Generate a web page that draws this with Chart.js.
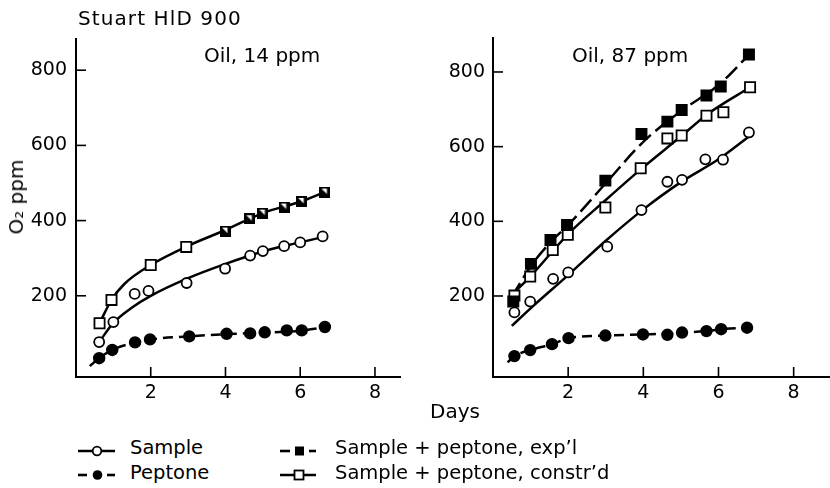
<!DOCTYPE html>
<html><head><meta charset="utf-8">
<script src="https://cdn.jsdelivr.net/npm/chart.js@4.4.1/dist/chart.umd.min.js"></script>
<style>
html,body{margin:0;padding:0;background:#fff;}
body{width:830px;height:488px;position:relative;overflow:hidden;font-family:"DejaVu Sans",sans-serif;color:#000;}
.t{position:absolute;white-space:nowrap;line-height:20px;font-size:20px;}
.lg{position:absolute;white-space:nowrap;line-height:20px;font-size:19.5px;}
.ic{position:absolute;}
#c1{position:absolute;left:0;top:0;}
#c2{position:absolute;left:416px;top:0;}
</style></head><body>
<canvas id="c1" width="410" height="410"></canvas>
<canvas id="c2" width="425" height="410"></canvas>
<div class="t" style="left:78px;top:8px;letter-spacing:1.1px">Stuart HlD 900</div>
<div class="t" style="left:204px;top:45px">Oil, 14 ppm</div>
<div class="t" style="left:572px;top:45px">Oil, 87 ppm</div>
<div class="t" style="left:16px;top:197px;transform:translate(-50%,-50%) rotate(-90deg)">O₂ ppm</div>
<div class="t" style="left:430px;top:401px">Days</div>

<svg class="ic" style="left:78px;top:445px" width="40" height="12"><line x1="0" y1="6" x2="37" y2="6" stroke="#000" stroke-width="2.4"/><circle cx="19" cy="6" r="4.3" fill="#fff" stroke="#000" stroke-width="1.8"/></svg>
<div class="lg" style="left:130px;top:438px">Sample</div>
<svg class="ic" style="left:78px;top:469px" width="40" height="12"><line x1="0" y1="6" x2="9" y2="6" stroke="#000" stroke-width="2.6"/><line x1="29" y1="6" x2="37" y2="6" stroke="#000" stroke-width="2.6"/><circle cx="19.5" cy="6" r="4.8" fill="#000"/></svg>
<div class="lg" style="left:130px;top:463px">Peptone</div>
<svg class="ic" style="left:280px;top:445px" width="40" height="12"><line x1="0" y1="6" x2="10" y2="6" stroke="#000" stroke-width="2.6"/><line x1="29" y1="6" x2="36" y2="6" stroke="#000" stroke-width="2.6"/><rect x="15" y="1.5" width="9" height="9" fill="#000"/></svg>
<div class="lg" style="left:335px;top:438px">Sample + peptone, exp’l</div>
<svg class="ic" style="left:280px;top:469px" width="40" height="12"><line x1="0" y1="6" x2="36" y2="6" stroke="#000" stroke-width="2.4"/><rect x="14.5" y="1.5" width="9" height="9" fill="#fff" stroke="#000" stroke-width="1.8"/></svg>
<div class="lg" style="left:335px;top:463px">Sample + peptone, constr’d</div>

<script>
// ---------- tick labels ----------
const yTicks = [200, 400, 600, 800];
const xTicks = [2, 4, 6, 8];

// ---------- Left panel: Oil, 14 ppm ----------
const sampleDaysL = [0.62, 1.0, 1.57, 1.94, 2.96, 3.99, 4.66, 5.0, 5.57, 6.0, 6.6];
const sampleL     = [77, 130, 205, 213, 234, 272, 307, 319, 332, 342, 358];
const peptoneDaysL = [0.62, 0.97, 1.58, 1.98, 3.03, 4.03, 4.66, 5.05, 5.64, 6.04, 6.66];
const peptoneL     = [34, 56, 76, 84, 92, 99, 100, 103, 108, 108, 117];
const constrDaysL = [0.63, 0.95, 2.0, 2.95, 4.0, 4.65, 5.0, 5.57, 6.04, 6.66];
const constrL     = [127, 189, 282, 330, 372, 405, 420, 436, 451, 476];
const explDaysL = [4.0, 4.65, 5.0, 5.57, 6.04, 6.66];
const explL     = [372, 405, 420, 436, 451, 476];
// fitted curves
const sampleFitDaysL = [0.62, 1.0, 1.5, 2.0, 3.0, 4.0, 5.0, 6.0, 6.6];
const sampleFitL     = [77, 128, 169, 200, 247, 285, 318, 342, 356];
const constrFitDaysL = [0.63, 0.95, 1.3, 2.0, 3.0, 4.0, 5.0, 6.0, 6.66];
const constrFitL     = [127, 189, 232, 282, 333, 375, 420, 450, 476];
const peptoneFitDaysL = [0.37, 0.62, 0.97, 1.58, 2.0, 3.0, 4.0, 5.0, 6.0, 6.66];
const peptoneFitL     = [13, 34, 56, 76, 84, 92, 98, 102, 107, 116];

// ---------- Right panel: Oil, 87 ppm ----------
const sampleDaysR = [0.57, 0.99, 1.6, 2.0, 3.04, 3.95, 4.64, 5.03, 5.65, 6.12, 6.81];
const sampleR     = [156, 185, 246, 263, 332, 430, 506, 511, 566, 565, 638];
const peptoneDaysR = [0.57, 0.99, 1.57, 2.01, 2.99, 3.99, 4.64, 5.03, 5.68, 6.07, 6.76];
const peptoneR     = [39, 55, 71, 87, 94, 97, 96, 102, 106, 111, 115];
const explDaysR = [0.54, 1.01, 1.53, 1.97, 2.99, 3.95, 4.64, 5.02, 5.68, 6.06, 6.81];
const explR     = [185, 286, 350, 390, 509, 634, 667, 698, 737, 761, 847];
const constrDaysR = [0.57, 0.99, 1.59, 1.99, 2.99, 3.93, 4.64, 5.02, 5.68, 6.13, 6.84];
const constrR     = [201, 252, 323, 364, 437, 542, 622, 630, 683, 692, 759];
// fitted curves
const sampleFitDaysR = [0.5, 1.0, 2.0, 3.0, 4.0, 5.0, 6.0, 6.81];
const sampleFitR     = [120, 167, 256, 348, 432, 505, 566, 627];
const constrFitDaysR = [0.54, 0.99, 2.0, 3.0, 3.93, 5.02, 5.68, 6.84];
const constrFitR     = [207, 252, 366, 457, 539, 629, 685, 759];
const explFitDaysR = [0.5, 1.0, 1.5, 2.0, 3.0, 4.0, 5.0, 6.0, 6.81];
const explFitR     = [198, 279, 341, 390, 502, 613, 695, 765, 846];
const peptoneFitDaysR = [0.39, 0.57, 0.99, 1.57, 2.01, 2.99, 3.99, 4.64, 5.03, 5.68, 6.07, 6.76];
const peptoneFitR     = [22, 39, 55, 71, 87, 94, 97, 99, 102, 106, 111, 115];

function pts(xs, ys) { return xs.map((x, i) => ({ x: x, y: ys[i] })); }

// half-filled square marker (overlapping exp'l / constr'd points)
const half = document.createElement('canvas');
half.width = 11; half.height = 11;
(function () {
  const c = half.getContext('2d');
  c.fillStyle = '#000'; c.fillRect(0, 0, 11, 11);
  c.fillStyle = '#fff';
  c.beginPath(); c.moveTo(2, 2); c.lineTo(7.5, 2); c.lineTo(7.5, 7.5); c.closePath(); c.fill();
})();

const inwardTicks = {
  id: 'inwardTicks',
  afterDraw(chart) {
    const { ctx, chartArea: a, scales: { x, y } } = chart;
    ctx.save(); ctx.strokeStyle = '#000'; ctx.lineWidth = 1.6;
    x.ticks.forEach(t => { const p = x.getPixelForValue(t.value); ctx.beginPath(); ctx.moveTo(p, a.bottom); ctx.lineTo(p, a.bottom - 10); ctx.stroke(); });
    y.ticks.forEach(t => { const p = y.getPixelForValue(t.value); ctx.beginPath(); ctx.moveTo(a.left, p); ctx.lineTo(a.left + 10, p); ctx.stroke(); });
    ctx.restore();
  }
};

const font = { family: 'DejaVu Sans', size: 19 };

function fitLine(data, dash) {
  return { type: 'line', data: data, showLine: true, borderColor: '#000', borderWidth: 2.5, borderDash: dash || [],
    pointRadius: 0, cubicInterpolationMode: 'monotone', fill: false, order: 5 };
}
function marks(data, style, radius, bg) {
  return { type: 'line', data: data, showLine: false, pointStyle: style, pointRadius: radius,
    pointBackgroundColor: bg, pointBorderColor: '#000', pointBorderWidth: 1.8, order: 0 };
}

function makeChart(id, datasets, yMin, yMax, xMax, yWidth, pad, labelPad) {
  return new Chart(document.getElementById(id), {
    type: 'line',
    data: { datasets: datasets },
    options: {
      responsive: false, animation: false, devicePixelRatio: 1,
      layout: { padding: pad },
      plugins: { legend: { display: false }, tooltip: { enabled: false } },
      scales: {
        x: {
          type: 'linear', min: 0, max: xMax,
          grid: { display: false, drawTicks: false },
          border: { display: true, color: '#000', width: 2 },
          ticks: { color: '#000', font: font, padding: 5, maxRotation: 0 },
          afterBuildTicks: s => { s.ticks = xTicks.map(v => ({ value: v })); },
          afterFit: s => { s.height = 33; }
        },
        y: {
          type: 'linear', min: yMin, max: yMax,
          grid: { display: false, drawTicks: false },
          border: { display: true, color: '#000', width: 2 },
          ticks: { color: '#000', font: font, padding: labelPad },
          afterBuildTicks: s => { s.ticks = yTicks.map(v => ({ value: v })); },
          afterFit: s => { s.width = yWidth; }
        }
      }
    },
    plugins: [inwardTicks]
  });
}

makeChart('c1', [
  marks(pts(explDaysL, explL), half, 6, '#000'),
  marks(pts(constrDaysL.slice(0, 4), constrL.slice(0, 4)), 'rect', 7.2, '#fff'),
  marks(pts(sampleDaysL, sampleL), 'circle', 5, '#fff'),
  marks(pts(peptoneDaysL, peptoneL), 'circle', 5.3, '#000'),
  fitLine(pts(constrFitDaysL, constrFitL)),
  fitLine(pts(sampleFitDaysL, sampleFitL)),
  fitLine(pts(peptoneFitDaysL, peptoneFitL), [10, 6])
], -16, 883, 8.67, 76, { top: 39, right: 10, left: 0, bottom: 0 }, 9);

makeChart('c2', [
  marks(pts(explDaysR, explR), 'rect', 7.2, '#000'),
  marks(pts(constrDaysR, constrR), 'rect', 7.2, '#fff'),
  marks(pts(sampleDaysR, sampleR), 'circle', 5, '#fff'),
  marks(pts(peptoneDaysR, peptoneR), 'circle', 5.3, '#000'),
  fitLine(pts(explFitDaysR, explFitR), [16, 6]),
  fitLine(pts(constrFitDaysR, constrFitR)),
  fitLine(pts(sampleFitDaysR, sampleFitR)),
  fitLine(pts(peptoneFitDaysR, peptoneFitR), [10, 6])
], -17, 891, 9.02, 77, { top: 38, right: 0, left: 0, bottom: 0 }, 8);
</script>
</body></html>
